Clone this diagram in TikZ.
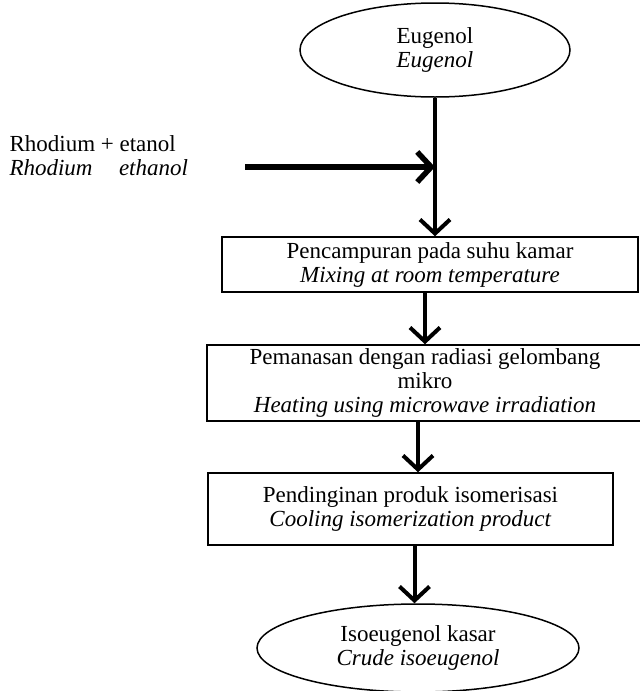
\documentclass[tikz,border=0pt]{standalone}
\usepackage{fontspec}
\setmainfont{Liberation Serif}
\usetikzlibrary{shapes.geometric,arrows.meta}
\tikzset{
  stepbox/.style={draw, line width=1.5pt, align=center, inner sep=0pt},
  blob/.style={draw, ellipse, line width=1.5pt, align=center, inner sep=0pt},
  flow/.style={line width=4pt, -{Straight Barb[length=14pt,width=30pt]}},
}
\begin{document}
\begin{tikzpicture}[x=1pt,y=-1pt,font=\fontsize{23}{24}\selectfont]
\useasboundingbox (0,0) rectangle (640,691);
\node[blob, minimum width=270pt, minimum height=94pt] (eug) at (435,50)
    {Eugenol\\\textit{Eugenol}};
\node[anchor=west, align=left] (rhod) at (6,156)
    {Rhodium + etanol\\\textit{Rhodium\hspace{0.9em} ethanol}};
\node[stepbox, minimum width=416pt, minimum height=55pt] (mix) at (430,264.5)
    {Pencampuran pada suhu kamar\\\textit{Mixing at room temperature}};
\node[stepbox, minimum width=436pt, minimum height=76pt] (heat) at (425,383)
    {Pemanasan dengan radiasi gelombang\\mikro\\\textit{Heating using microwave irradiation}};
\node[stepbox, minimum width=405pt, minimum height=72pt] (cool) at (410.5,509)
    {Pendinginan produk isomerisasi\\\textit{Cooling isomerization product}};
\node[blob, minimum width=322pt, minimum height=88pt] (crude) at (418,648)
    {Isoeugenol kasar\\\textit{Crude isoeugenol}};
\coordinate (rhin) at (245,167);
\coordinate (join) at (eug.south |- rhin);
\draw[flow, line width=5.5pt] (rhin) -- (join);
\draw[flow] (eug.south) -- (eug.south |- mix.north);
\draw[flow] ([xshift=-5pt]mix.south) -- ([xshift=-5pt]mix.south |- heat.north);
\draw[flow] ([xshift=-7pt]heat.south) -- ([xshift=-7pt]heat.south |- cool.north);
\draw[flow] ([xshift=4pt]cool.south) -- ([xshift=4pt]cool.south |- crude.north);
\end{tikzpicture}
\end{document}
